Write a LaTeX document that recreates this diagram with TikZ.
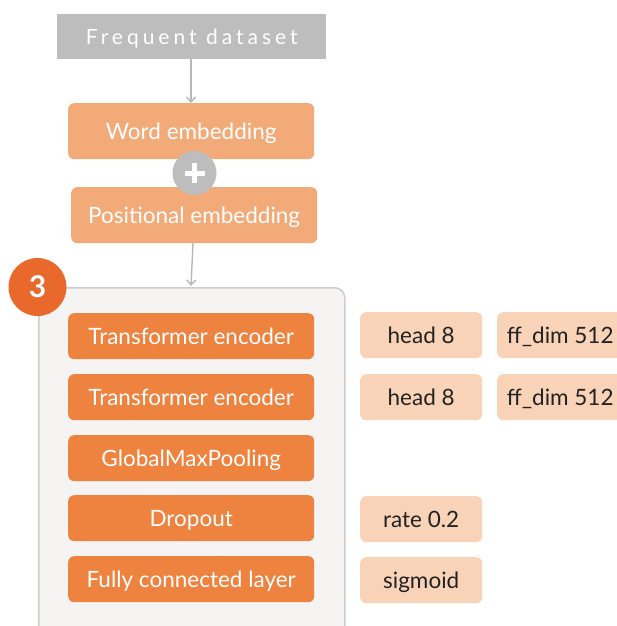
\documentclass[tikz,border=0pt]{standalone}
\usepackage{fontspec}
\setmainfont{Lato}
\usetikzlibrary{arrows.meta}
\definecolor{dsgray}{HTML}{BDBDBD}
\definecolor{lightor}{HTML}{F2AB78}
\definecolor{midor}{HTML}{EE823F}
\definecolor{badge}{HTML}{E8692B}
\definecolor{peach}{HTML}{F8D3B8}
\definecolor{contfill}{HTML}{F5F4F3}
\definecolor{contline}{HTML}{CDCDCD}
\definecolor{arrowgray}{HTML}{B8B8B8}
\definecolor{darktext}{HTML}{222222}
\tikzset{
  box/.style={rounded corners=6pt, inner sep=0pt, anchor=north west, text height=17pt, text depth=1pt},
  embbox/.style={box, fill=lightor, text=white, font=\fontsize{22.5}{24}\selectfont},
  layerbox/.style={box, fill=midor, text=white, font=\fontsize{22.5}{24}\selectfont},
  parbox/.style={box, fill=peach, text=darktext, font=\fontsize{22.5}{24}\selectfont},
  conn/.style={draw=arrowgray, line width=1.4pt, -{Straight Barb[length=5pt,width=9pt]}},
}
\begin{document}
\begin{tikzpicture}[x=1pt,y=-1pt]
\useasboundingbox (0,0) rectangle (617,626);
% dataset
\node[anchor=north west, fill=dsgray, minimum width=269pt, minimum height=45pt, inner sep=0pt,
  text height=15.5pt, text depth=0.5pt,
  text=white, font=\fontsize{21}{23}\addfontfeatures{LetterSpace=19}\selectfont] (data) at (57,14) {Frequent dataset};
% embeddings
\node[embbox, minimum width=246pt, minimum height=56pt] (word) at (68,103) {Word embedding};
\node[embbox, minimum width=246pt, minimum height=56pt] (pos) at (71,187) {Positional embedding};
\node[circle, fill=dsgray, minimum size=44pt, inner sep=0pt] (plus) at (194.5,173) {};
\draw[white, line width=5pt] ([xshift=-10pt]plus.center) -- ([xshift=10pt]plus.center);
\draw[white, line width=5pt] ([yshift=-10pt]plus.center) -- ([yshift=10pt]plus.center);
% container
\node[anchor=north west, draw=contline, line width=1.5pt, fill=contfill, rounded corners=10pt,
  minimum width=306pt, minimum height=360pt, inner sep=0pt] (cont) at (38,287) {};
\coordinate (c1) at (191,59);
\draw[conn] (data.south -| c1) -- (word.north -| c1);
\coordinate (c2) at (193,243);
\coordinate (c3) at (191,286);
\draw[conn] (c2) -- (c3);
% badge
\node[circle, fill=badge, minimum size=58pt, inner sep=0pt, text=white,
  font=\fontsize{30}{32}\bfseries\selectfont] (badge) at (37.5,287) {3};
% layers
\node[layerbox, minimum width=246pt, minimum height=46pt] (te1) at (68,313) {Transformer encoder};
\node[layerbox, minimum width=246pt, minimum height=46pt] (te2) at (68,374) {Transformer encoder};
\node[layerbox, minimum width=246pt, minimum height=46pt] (gmp) at (68,435) {GlobalMaxPooling};
\node[layerbox, minimum width=246pt, minimum height=46pt] (drop) at (68,495) {Dropout};
\node[layerbox, minimum width=246pt, minimum height=46pt] (fc) at (68,556) {Fully connected layer};
% params
\node[parbox, minimum width=122pt, minimum height=46pt] (h1) at (360,312) {head 8};
\node[parbox, minimum width=122pt, minimum height=46pt] (h2) at (360,374) {head 8};
\node[parbox, minimum width=122pt, minimum height=46pt] (rate) at (360,496) {rate 0.2};
\node[parbox, minimum width=122pt, minimum height=46pt] (sig) at (360,557) {sigmoid};
\node[parbox, minimum width=126pt, minimum height=46pt] (ff1) at (497,312) {ff\_dim 512};
\node[parbox, minimum width=126pt, minimum height=46pt] (ff2) at (497,374) {ff\_dim 512};
\end{tikzpicture}
\end{document}
